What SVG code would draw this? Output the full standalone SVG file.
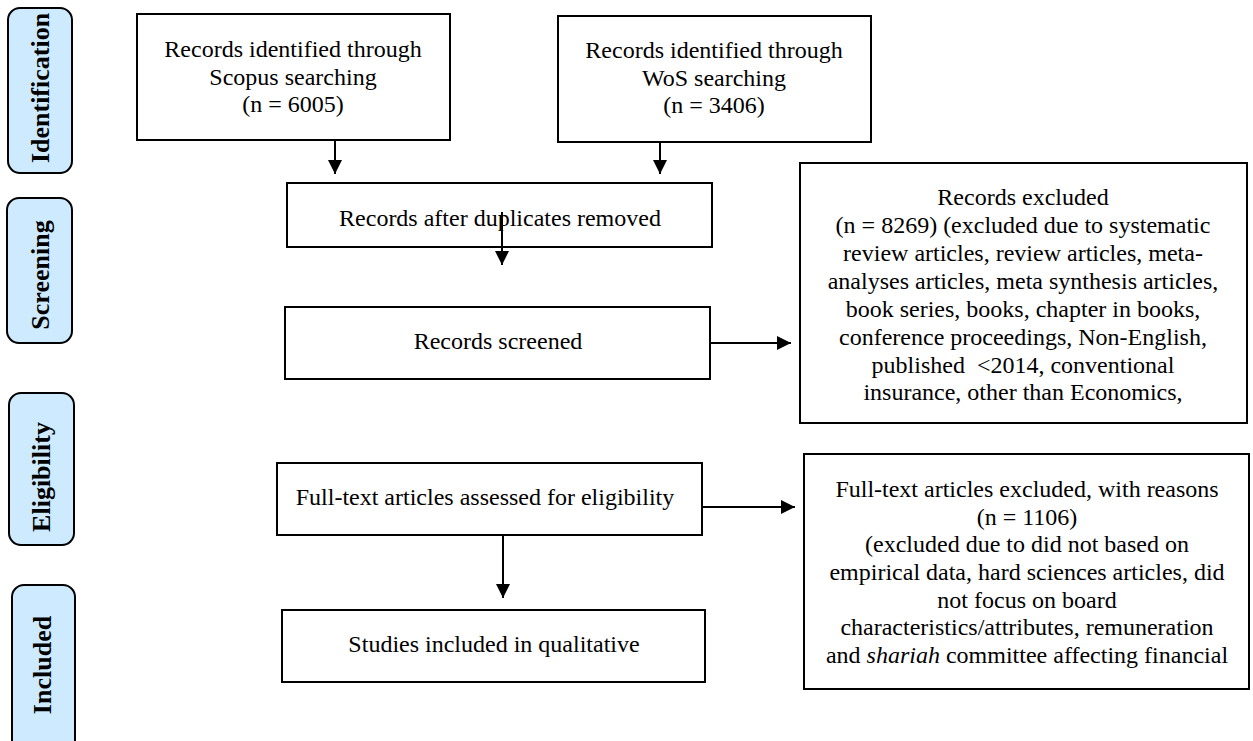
<svg xmlns="http://www.w3.org/2000/svg" width="1253" height="741" viewBox="0 0 1253 741">
<defs>
<style>
.box{fill:#fff;stroke:#000;stroke-width:2}
.stage{fill:#cdeaff;stroke:#000;stroke-width:2}
.t{font-family:"Liberation Serif","Times New Roman",serif;font-size:24px;fill:#000;text-anchor:middle}
.lab{font-family:"Liberation Serif","Times New Roman",serif;font-size:26px;font-weight:bold;fill:#000;text-anchor:middle}
.c{stroke:#000;stroke-width:2;fill:none;marker-end:url(#ah)}
</style>
<marker id="ah" viewBox="0 0 14 14" refX="14" refY="7" markerWidth="14" markerHeight="14" markerUnits="userSpaceOnUse" orient="auto">
<path d="M0,0 L14,7 L0,14 Z" fill="#000"/>
</marker>
</defs>
<rect width="1253" height="741" fill="#fff"/>

<g id="stage-identification">
<rect class="stage" x="8" y="8" width="64" height="165" rx="12"/>
<text class="lab" transform="translate(49,88) rotate(-90)">Identification</text>
</g>
<g id="stage-screening">
<rect class="stage" x="7" y="198" width="65" height="145" rx="12"/>
<text class="lab" transform="translate(49,275) rotate(-90)">Screening</text>
</g>
<g id="stage-eligibility">
<rect class="stage" x="9" y="393" width="65" height="152" rx="12"/>
<text class="lab" transform="translate(50,477) rotate(-90)">Eligibility</text>
</g>
<g id="stage-included">
<rect class="stage" x="12" y="585" width="63" height="170" rx="12"/>
<text class="lab" transform="translate(51,665) rotate(-90)">Included</text>
</g>

<g id="node-scopus">
<rect class="box" x="137" y="14" width="313" height="126"/>
<text class="t" x="293" y="57">Records identified through</text>
<text class="t" x="293" y="85">Scopus searching</text>
<text class="t" x="293" y="112">(n = 6005)</text>
</g>
<g id="node-wos">
<rect class="box" x="558" y="16" width="313" height="126"/>
<text class="t" x="714" y="58">Records identified through</text>
<text class="t" x="714" y="86">WoS searching</text>
<text class="t" x="714" y="113">(n = 3406)</text>
</g>
<g id="node-duplicates">
<rect class="box" x="287" y="183" width="425" height="64"/>
<text class="t" x="500" y="226">Records after duplicates removed</text>
</g>
<g id="node-screened">
<rect class="box" x="285" y="307" width="425" height="72"/>
<text class="t" x="498" y="349">Records screened</text>
</g>
<g id="node-excluded">
<rect class="box" x="800" y="163" width="447" height="260"/>
<text class="t" x="1023" y="205">Records excluded</text>
<text class="t" x="1023" y="233">(n = 8269) (excluded due to systematic</text>
<text class="t" x="1023" y="261">review articles, review articles, meta-</text>
<text class="t" x="1023" y="289">analyses articles, meta synthesis articles,</text>
<text class="t" x="1023" y="317">book series, books, chapter in books,</text>
<text class="t" x="1023" y="345">conference proceedings, Non-English,</text>
<text class="t" x="1023" y="373">published&#160; &lt;2014, conventional</text>
<text class="t" x="1023" y="400">insurance, other than Economics,</text>
</g>
<g id="node-fulltext">
<rect class="box" x="277" y="463" width="425" height="72"/>
<text class="t" x="485" y="505">Full-text articles assessed for eligibility</text>
</g>
<g id="node-fulltext-excluded">
<rect class="box" x="804" y="454" width="445" height="235"/>
<text class="t" x="1027" y="497">Full-text articles excluded, with reasons</text>
<text class="t" x="1027" y="525">(n = 1106)</text>
<text class="t" x="1027" y="552">(excluded due to did not based on</text>
<text class="t" x="1027" y="580">empirical data, hard sciences articles, did</text>
<text class="t" x="1027" y="608">not focus on board</text>
<text class="t" x="1027" y="635">characteristics/attributes, remuneration</text>
<text class="t" x="1027" y="663">and <tspan font-style="italic">shariah</tspan> committee affecting financial</text>
</g>
<g id="node-studies">
<rect class="box" x="282" y="610" width="423" height="72"/>
<text class="t" x="494" y="652">Studies included in qualitative</text>
</g>

<g id="connectors">
<line class="c" x1="335" y1="141" x2="335" y2="174"/>
<line class="c" x1="660" y1="143" x2="660" y2="174"/>
<line class="c" x1="502" y1="212" x2="502" y2="265"/>
<line class="c" x1="711" y1="343" x2="791" y2="343"/>
<line class="c" x1="703" y1="507" x2="795" y2="507"/>
<line class="c" x1="503" y1="536" x2="503" y2="598"/>
</g>
</svg>
